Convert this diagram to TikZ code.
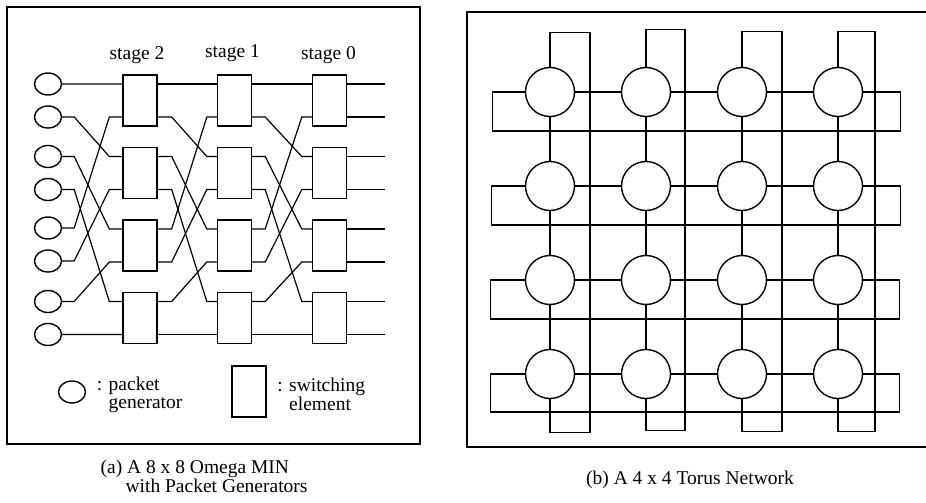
\documentclass[tikz,border=0pt]{standalone}
\usepackage{fontspec}
\setmainfont{Liberation Serif}
\usetikzlibrary{shapes.geometric,positioning,calc}

\begin{document}
\begin{tikzpicture}[x=1pt, y=-1pt, line width=1.2pt,
  txt/.style = {font=\fontsize{19.5}{18.5}\selectfont, inner sep=0pt},
  gen/.style = {draw, ellipse, line width=1.4pt, minimum width=27pt, minimum height=22pt, inner sep=0pt},
  switch/.style = {draw, rectangle, line width=1.4pt, minimum width=34pt, minimum height=51pt, inner sep=0pt},
  site/.style = {draw, circle, line width=1.4pt, minimum size=49pt, inner sep=0pt}]
\useasboundingbox (0,0) rectangle (926,503);

% (a) omega network
\draw[line width=1.5pt] (7,7) rectangle (420,444);

\node[gen] (pg0) at (48,84) {};
\node[gen] (pg1) at (48,117) {};
\node[gen] (pg2) at (48,156.5) {};
\node[gen] (pg3) at (48,189.5) {};
\node[gen] (pg4) at (48,228) {};
\node[gen] (pg5) at (48,261) {};
\node[gen] (pg6) at (48,301.5) {};
\node[gen] (pg7) at (48,334.5) {};

\node[switch] (sw20) at (140,100.5) {};
\node[switch] (sw21) at (140,173) {};
\node[switch] (sw22) at (140,245.5) {};
\node[switch] (sw23) at (140,318) {};
\node[switch] (sw10) at (234.5,100.5) {};
\node[switch] (sw11) at (234.5,173) {};
\node[switch] (sw12) at (234.5,245.5) {};
\node[switch] (sw13) at (234.5,318) {};
\node[switch] (sw00) at (329.5,100.5) {};
\node[switch] (sw01) at (329.5,173) {};
\node[switch] (sw02) at (329.5,245.5) {};
\node[switch] (sw03) at (329.5,318) {};

\node[txt, above=15pt of sw20, anchor=base, xshift=-3pt] (st2) {stage 2};
\node[txt, above=17pt of sw10, anchor=base, xshift=-2pt] (st1) {stage 1};
\node[txt, above=15pt of sw00, anchor=base, xshift=-1pt] (st0) {stage 0};

% generators into stage 2 (perfect shuffle)
\draw (pg0.east) -- (sw20.137);
\draw (pg1.east) -- ++(12,0) -- ($(sw21.137)+(-13,0)$) -- (sw21.137);
\draw (pg2.east) -- ++(12,0) -- ($(sw22.137)+(-13,0)$) -- (sw22.137);
\draw (pg3.east) -- ++(12,0) -- ($(sw23.137)+(-13,0)$) -- (sw23.137);
\draw (pg4.east) -- ++(12,0) -- ($(sw20.223)+(-13,0)$) -- (sw20.223);
\draw (pg5.east) -- ++(12,0) -- ($(sw21.223)+(-13,0)$) -- (sw21.223);
\draw (pg6.east) -- ++(12,0) -- ($(sw22.223)+(-13,0)$) -- (sw22.223);
\draw (pg7.east) -- (sw23.223);

% stage 2 to stage 1
\draw (sw20.43) -- (sw10.137);
\draw (sw20.-43) -- ++(14,0) -- ($(sw11.137)+(-10,0)$) -- (sw11.137);
\draw (sw21.43) -- ++(14,0) -- ($(sw12.137)+(-10,0)$) -- (sw12.137);
\draw (sw21.-43) -- ++(14,0) -- ($(sw13.137)+(-10,0)$) -- (sw13.137);
\draw (sw22.43) -- ++(14,0) -- ($(sw10.223)+(-10,0)$) -- (sw10.223);
\draw (sw22.-43) -- ++(14,0) -- ($(sw11.223)+(-10,0)$) -- (sw11.223);
\draw (sw23.43) -- ++(14,0) -- ($(sw12.223)+(-10,0)$) -- (sw12.223);
\draw (sw23.-43) -- (sw13.223);

% stage 1 to stage 0
\draw (sw10.43) -- (sw00.137);
\draw (sw10.-43) -- ++(13,0) -- ($(sw01.137)+(-10,0)$) -- (sw01.137);
\draw (sw11.43) -- ++(13,0) -- ($(sw02.137)+(-10,0)$) -- (sw02.137);
\draw (sw11.-43) -- ++(13,0) -- ($(sw03.137)+(-10,0)$) -- (sw03.137);
\draw (sw12.43) -- ++(13,0) -- ($(sw00.223)+(-10,0)$) -- (sw00.223);
\draw (sw12.-43) -- ++(13,0) -- ($(sw01.223)+(-10,0)$) -- (sw01.223);
\draw (sw13.43) -- ++(13,0) -- ($(sw02.223)+(-10,0)$) -- (sw02.223);
\draw (sw13.-43) -- (sw03.223);

% outputs
\draw (sw00.43) -- ++(38,0);
\draw (sw00.-43) -- ++(38,0);
\draw (sw01.43) -- ++(38,0);
\draw (sw01.-43) -- ++(38,0);
\draw (sw02.43) -- ++(38,0);
\draw (sw02.-43) -- ++(38,0);
\draw (sw03.43) -- ++(38,0);
\draw (sw03.-43) -- ++(38,0);

% legend
\node[gen] (lgen) at (72,392) {};
\node[txt, right=10pt of lgen, align=left, yshift=-3pt] (lgentxt) {: packet\\\hphantom{: }generator};
\node[switch] (lsw) at (249,391.5) {};
\node[txt, right=10pt of lsw, align=left, yshift=-3pt] (lswtxt) {: switching\\\hphantom{: }element};

\node[txt, anchor=base west] (capa) at (100,473) {(a) A 8 x 8 Omega MIN};
\node[txt, anchor=base west] (capa2) at (125,492) {with Packet Generators};

% (b) torus
\draw[line width=1.5pt] (928,12) -- (467,12) -- (467,447) -- (928,447);

\node[site] (n11) at (550,92) {};
\node[site] (n12) at (646,92) {};
\node[site] (n13) at (742,92) {};
\node[site] (n14) at (838,92) {};
\node[site] (n21) at (550,186) {};
\node[site] (n22) at (646,186) {};
\node[site] (n23) at (742,186) {};
\node[site] (n24) at (838,186) {};
\node[site] (n31) at (550,280) {};
\node[site] (n32) at (646,280) {};
\node[site] (n33) at (742,280) {};
\node[site] (n34) at (838,280) {};
\node[site] (n41) at (550,374) {};
\node[site] (n42) at (646,374) {};
\node[site] (n43) at (742,374) {};
\node[site] (n44) at (838,374) {};

\draw (n11) -- (n12);
\draw (n12) -- (n13);
\draw (n13) -- (n14);
\draw (n21) -- (n22);
\draw (n22) -- (n23);
\draw (n23) -- (n24);
\draw (n31) -- (n32);
\draw (n32) -- (n33);
\draw (n33) -- (n34);
\draw (n41) -- (n42);
\draw (n42) -- (n43);
\draw (n43) -- (n44);

\draw (n11) -- (n21);
\draw (n21) -- (n31);
\draw (n31) -- (n41);
\draw (n12) -- (n22);
\draw (n22) -- (n32);
\draw (n32) -- (n42);
\draw (n13) -- (n23);
\draw (n23) -- (n33);
\draw (n33) -- (n43);
\draw (n14) -- (n24);
\draw (n24) -- (n34);
\draw (n34) -- (n44);

% wraparound links
\draw (n11.west) -- ++(-32.5,0) -- ++(0,39) -| ($(n14.east)+(37.5,0)$) -- (n14.east);
\draw (n21.west) -- ++(-33,0) -- ++(0,39) -| ($(n24.east)+(37,0)$) -- (n24.east);
\draw (n31.west) -- ++(-34,0) -- ++(0,39) -| ($(n34.east)+(36,0)$) -- (n34.east);
\draw (n41.west) -- ++(-34,0) -- ++(0,38) -| ($(n44.east)+(36,0)$) -- (n44.east);

\draw (n11.north) -- ++(0,-34) -- ++(40,0) |- ($(n41.south)+(0,33)$) -- (n41.south);
\draw (n12.north) -- ++(0,-37) -- ++(39,0) |- ($(n42.south)+(0,31)$) -- (n42.south);
\draw (n13.north) -- ++(0,-35) -- ++(40,0) |- ($(n43.south)+(0,32)$) -- (n43.south);
\draw (n14.north) -- ++(0,-35) -- ++(37,0) |- ($(n44.south)+(0,32)$) -- (n44.south);

\node[txt, anchor=base] (capb) at (690,484) {(b) A 4 x 4 Torus Network};
\end{tikzpicture}
\end{document}
